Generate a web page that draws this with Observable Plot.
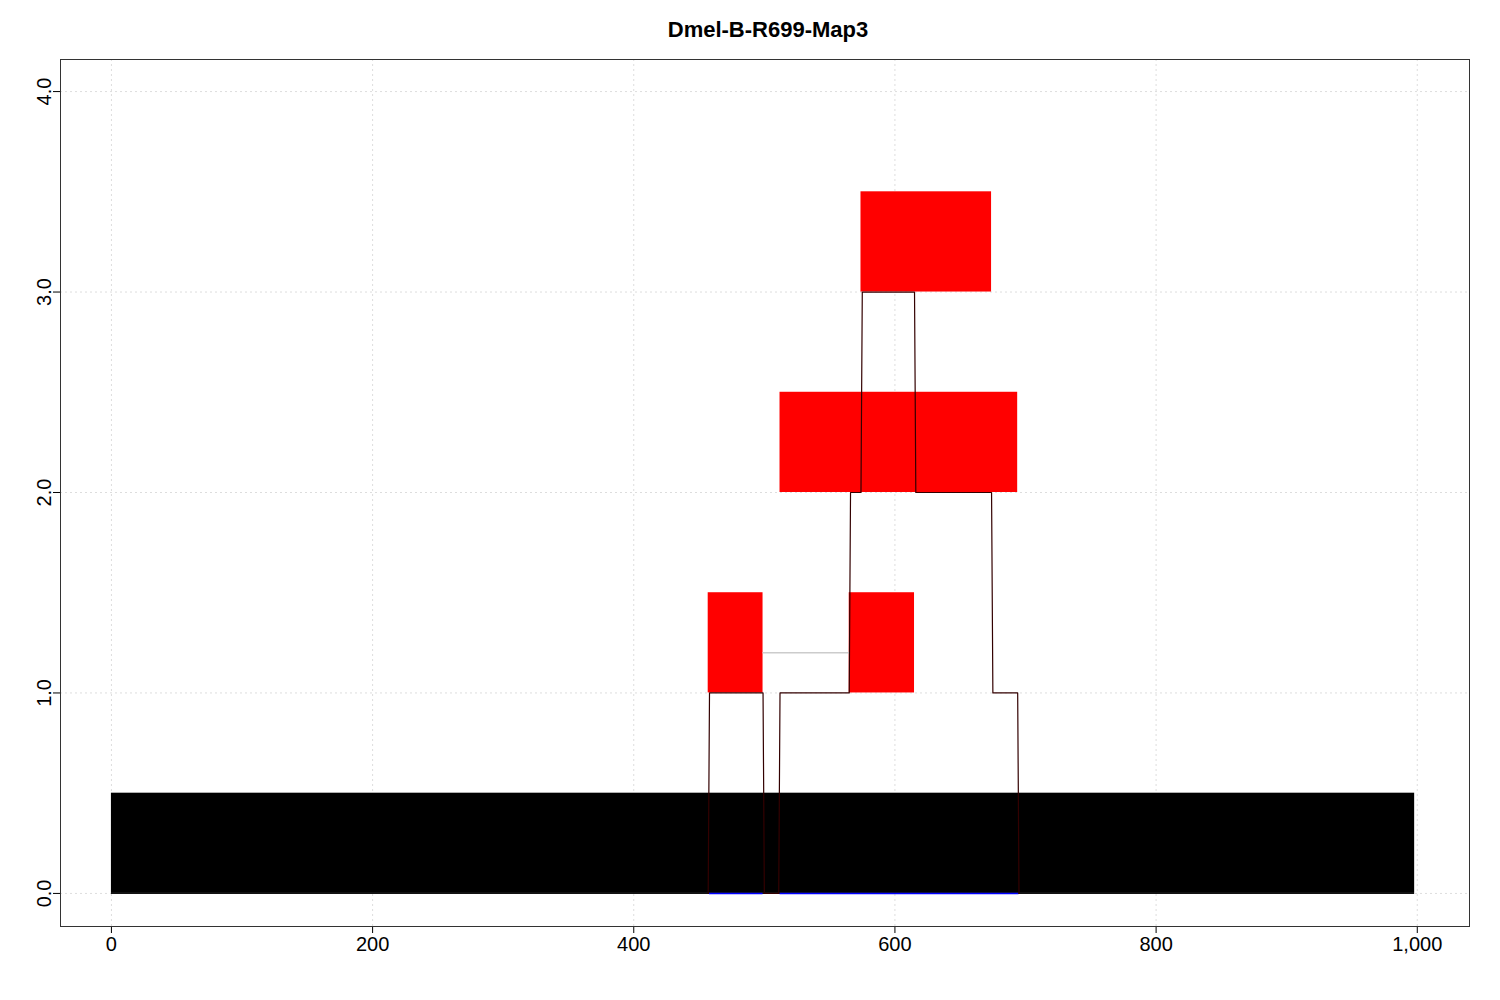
<!DOCTYPE html>
<html><head><meta charset="utf-8">
<script src="https://cdn.jsdelivr.net/npm/d3@7"></script>
<script src="https://cdn.jsdelivr.net/npm/@observablehq/plot@0.6"></script>
<style>
body{margin:0;background:#fff;font-family:"Liberation Sans",Arial,sans-serif}
#title{height:45px;line-height:60px;text-align:center;font-weight:bold;font-size:22px;padding-left:36px}
</style></head><body>
<div id="title">Dmel-B-R699-Map3</div>
<div id="chart"></div>
<script>
const baseBlock = [{x1: 0, x2: 998, y1: 0, y2: 0.5}];
const redBlocks = [
  {x1: 457, x2: 499, y1: 1, y2: 1.5},
  {x1: 565, x2: 615, y1: 1, y2: 1.5},
  {x1: 512, x2: 694, y1: 2, y2: 2.5},
  {x1: 574, x2: 674, y1: 3, y2: 3.5}
];
const pathX = [457, 458, 499, 500, 511, 512, 565, 566, 574, 575, 615, 616, 674, 675, 694, 695];
const pathY = [0, 1, 1, 0, 0, 1, 1, 2, 2, 3, 3, 2, 2, 1, 1, 0];
const path = pathX.map((x, i) => ({x, y: pathY[i]}));
const grayLink = [{x: 499, y: 1.2}, {x: 565, y: 1.2}];
const blueSegs = [{x1: 458, x2: 499}, {x1: 512, x2: 695}];
const xTicks = [0, 200, 400, 600, 800, 1000];
const yTicks = [0, 1, 2, 3, 4];

const chart = Plot.plot({
  width: 1500, height: 955,
  marginLeft: 60, marginRight: 31, marginTop: 14, marginBottom: 74,
  style: {fontSize: "20px", fontFamily: "Liberation Sans, Arial, sans-serif", color: "#000"},
  x: {domain: [-39, 1040], ticks: xTicks, label: null, tickSize: 7, tickPadding: 6},
  y: {domain: [-0.165, 4.16], ticks: yTicks, label: null, tickSize: 7, tickRotate: -90, tickPadding: 10},
  marks: [
    Plot.gridX(xTicks, {stroke: "#ddd", strokeOpacity: 1, strokeDasharray: "2,3"}),
    Plot.gridY(yTicks, {stroke: "#ddd", strokeOpacity: 1, strokeDasharray: "2,3"}),
    Plot.rect(baseBlock, {x1: "x1", x2: "x2", y1: "y1", y2: "y2", fill: "black"}),
    Plot.rect(redBlocks, {x1: "x1", x2: "x2", y1: "y1", y2: "y2", fill: "red"}),
    Plot.ruleY([0], {x1: 0, x2: 998, stroke: "black"}),
    Plot.ruleY(blueSegs, {y: 0, x1: "x1", x2: "x2", stroke: "blue", strokeWidth: 1.5}),
    Plot.line(grayLink, {x: "x", y: "y", stroke: "#ccc"}),
    Plot.line(path, {x: "x", y: "y", stroke: "#300", strokeWidth: 1.2}),
    Plot.axisX({ticks: xTicks, tickSize: 7}),
    Plot.axisY({ticks: yTicks, tickSize: 7, tickRotate: -90}),
    Plot.frame({stroke: "#333"})
  ]
});
document.getElementById("chart").append(chart);
</script>
</body></html>
